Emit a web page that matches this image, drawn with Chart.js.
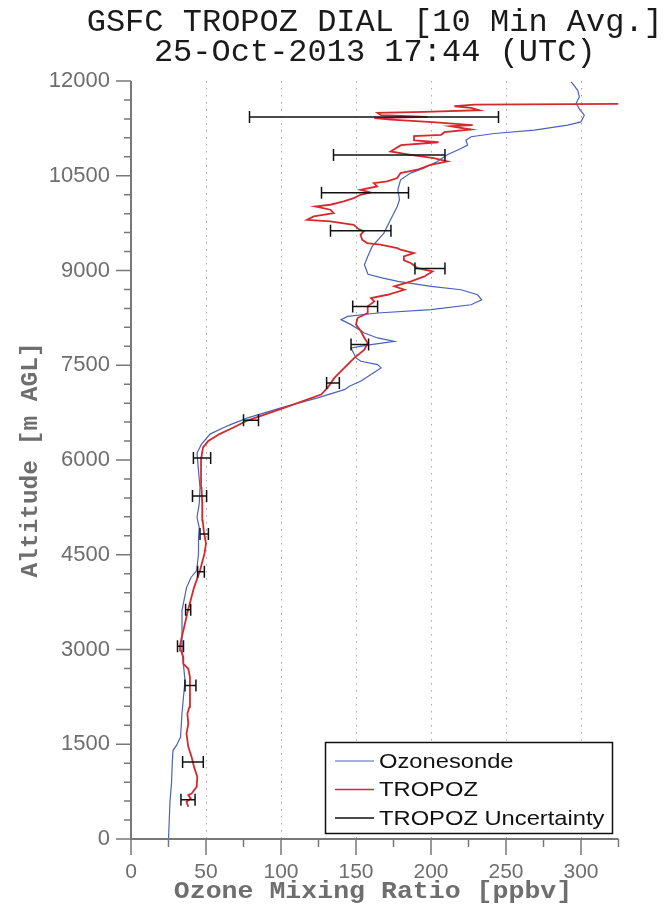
<!DOCTYPE html>
<html>
<head>
<meta charset="utf-8">
<script src="https://cdn.jsdelivr.net/npm/chart.js@4.4.0/dist/chart.umd.min.js"></script>
<style>
  html, body { margin: 0; padding: 0; background: #fff; }
  #wrap { width: 664px; height: 912px; position: relative; }
</style>
</head>
<body>
<div id="wrap"><canvas id="chart"></canvas></div>
<script>
// Ozonesonde profile: altitude [m AGL] and ozone [ppbv]
const sondeAlt = [0, 300, 600, 885, 1200, 1400, 1485, 1610, 1990, 2510, 2990, 3300, 3620, 3980, 4140,
    4250, 4520, 4770, 4930, 5090, 5310, 5560, 5830, 6110, 6250, 6410, 6510, 6564, 6620, 6668, 6825,
    6983, 7114, 7168, 7247, 7353, 7458, 7510, 7563, 7616, 7721, 7773, 7827, 7879, 7932, 8011, 8143,
    8222, 8274, 8327, 8380, 8458, 8537, 8616, 8695, 8748, 8827, 8879, 8940, 9090, 9221, 9381, 9592,
    9803, 10014, 10120, 10278, 10436, 10542, 10621, 10726, 10832, 10932, 10985, 11064, 11117, 11169,
    11222, 11301, 11353, 11459, 11538, 11643, 11748, 11853, 11959, 11985];
const sondeO3 = [25, 25.5, 26, 27, 27.5, 28, 30.4, 33, 34, 36, 34, 34, 34, 37, 40,
    43.8, 45, 45, 45.5, 44, 45.5, 46, 45, 44, 47, 52.7, 61.5, 66.7, 72.7, 77.8, 100,
    124.4, 142.2, 145.6, 153, 160, 166.7, 164.4, 153.3, 150, 147.8, 146.7, 160, 175.6, 164.4, 155.6, 146.7,
    140, 144.4, 164.4, 200, 226.7, 233.8, 231, 220, 200, 178, 168, 158, 155.6, 157.8, 160.8, 168.6,
    173, 177.5, 179, 177.9, 179.7, 186.4, 195.3, 204.2, 210.9, 220, 224.4, 223.3, 226.7, 242.2,
    268.9, 291.1, 300, 302.2, 299.5, 296.7, 298.9, 297.8, 294.4, 293.3];

// TROPOZ lidar retrieval
const tropozAlt = [510, 589, 642, 695, 721, 826, 984, 1142, 1300, 1458, 1668, 1826, 1984, 2089, 2247,
    2405, 2563, 2695, 2774, 2879, 2984, 3063, 3195, 3300, 3620, 3980, 4250, 4520, 4680, 4840, 5040,
    5310, 5560, 5830, 6010, 6200, 6300, 6410, 6510, 6620, 6825, 7036, 7142, 7300, 7458, 7616, 7748,
    7853, 7932, 8038, 8143, 8248, 8327, 8432, 8511, 8563, 8616, 8695, 8748, 8827, 8906, 8985, 9037,
    9116, 9160, 9222, 9276, 9329, 9355, 9408, 9434, 9487, 9566, 9619, 9656, 9724, 9777, 9803, 9856,
    9909, 9962, 10014, 10041, 10093, 10146, 10199, 10236, 10278, 10331, 10384, 10410, 10463, 10542,
    10595, 10674, 10726, 10780, 10832, 10884, 10985, 11030, 11060, 11127, 11148,
    11190, 11232, 11285, 11300, 11348, 11390, 11411, 11432, 11459, 11495, 11511, 11537, 11574, 11600,
    11627, 11637];
const tropozO3 = [38.2, 37, 39.8, 38.2, 40.4, 43.8, 44.2, 42, 40.4, 38.2, 37, 38.2, 37.6, 38.9, 39.3,
    39.3, 39.3, 38.2, 34.9, 34.9, 33.3, 32.7, 33.8, 34.9, 38, 42, 46, 49, 50, 48.7, 47.8,
    47.5, 47, 46.7, 46.7, 48, 51.5, 59, 68, 77, 102, 126.7, 131, 135.6, 142.2, 148.9, 155.6,
    157.8, 155.6, 153.3, 150, 151, 157.8, 157.8, 162.2, 160, 171, 182.2, 175.6, 186.7, 195.6, 201, 191,
    186.7, 182, 181.9, 188.6, 179.7, 177.5, 166.3, 157.4, 154.1, 153, 155.2, 151.8, 148.5, 132.9, 117.4, 121.8,
    135.1, 132.9, 122.9, 132.9, 141.8, 148.5, 153, 159.7, 153, 164.1, 161.9, 170.8, 177.5, 179.7,
    190.8, 199.7, 210.9, 201.9, 186.4, 173, 180, 205, 189, 188.7, 206.7,
    209, 226.7, 213.3, 227.8, 201, 173.3, 162.2, 197.8, 166.7, 164.4, 195.6, 232.2, 226.7, 215.6,
    228.9, 325];

// TROPOZ uncertainty bars
const errAlt = [620, 1220, 2430, 3050, 3630, 4230, 4830, 5430, 6030, 6630, 7220, 7830, 8430, 9030,
    9630, 10230, 10830, 11430];
const errLow = [33.3, 34.4, 36, 31, 36.4, 44.4, 46, 41, 41.6, 75, 130.4, 146.7, 147.8, 189.3,
    133, 127, 135, 79];
const errHigh = [42.7, 48.2, 43.3, 35, 39.8, 48.9, 51.6, 50.4, 53.1, 85, 138.9, 158.4, 164.4, 209.3,
    173.3, 185, 209.3, 245];

const xLabels = [0, 50, 100, 150, 200, 250, 300];
const yLabels = [0, 1500, 3000, 4500, 6000, 7500, 9000, 10500, 12000];

const AXIS_GRAY = '#787878';
const TEXT_GRAY = '#6e6e6e';

function toPoints(xs, ys) {
    return xs.map((v, i) => ({ x: v, y: ys[i] }));
}

// draw text stretched horizontally like the original render
function stretchText(ctx, text, x, y, sx, align) {
    ctx.save();
    ctx.translate(x, y);
    ctx.scale(sx, 1);
    ctx.textAlign = align || 'left';
    ctx.fillText(text, 0, 0);
    ctx.restore();
}

const gridPlugin = {
    id: 'dottedGrid',
    beforeDatasetsDraw(chart) {
        const { ctx, chartArea: a, scales: { x } } = chart;
        ctx.save();
        ctx.strokeStyle = '#a8a8a8';
        ctx.lineWidth = 1;
        ctx.setLineDash([1.5, 5.5]);
        xLabels.filter(v => v > 0).forEach(v => {
            const px = Math.round(x.getPixelForValue(v)) + 0.5;
            ctx.beginPath();
            ctx.moveTo(px, a.top);
            ctx.lineTo(px, a.bottom);
            ctx.stroke();
        });
        ctx.restore();
    },
};

const errorBarPlugin = {
    id: 'errorBars',
    afterDatasetsDraw(chart) {
        const { ctx, scales: { x, y } } = chart;
        ctx.save();
        ctx.strokeStyle = '#111';
        ctx.lineWidth = 1.5;
        errAlt.forEach((alt, i) => {
            const py = y.getPixelForValue(alt);
            const x0 = x.getPixelForValue(errLow[i]);
            const x1 = x.getPixelForValue(errHigh[i]);
            ctx.beginPath();
            ctx.moveTo(x0, py); ctx.lineTo(x1, py);
            ctx.moveTo(x0, py - 6); ctx.lineTo(x0, py + 6);
            ctx.moveTo(x1, py - 6); ctx.lineTo(x1, py + 6);
            ctx.stroke();
        });
        ctx.restore();
    },
};

const framePlugin = {
    id: 'frame',
    afterDraw(chart) {
        const { ctx, chartArea: a, scales: { x, y } } = chart;
        ctx.save();
        // spines
        ctx.strokeStyle = AXIS_GRAY;
        ctx.lineWidth = 2;
        ctx.beginPath();
        ctx.moveTo(a.left, a.top);
        ctx.lineTo(a.left, a.bottom);
        ctx.lineTo(a.right, a.bottom);
        ctx.stroke();
        // ticks
        ctx.lineWidth = 1.5;
        ctx.beginPath();
        for (let v = 0; v <= 12000; v += 300) {
            const py = y.getPixelForValue(v);
            const len = v % 1500 === 0 ? 15 : 7;
            ctx.moveTo(a.left, py); ctx.lineTo(a.left - len, py);
        }
        for (let v = 0; v <= 325; v += 25) {
            const px = x.getPixelForValue(v);
            const len = v % 50 === 0 ? 16 : 8;
            ctx.moveTo(px, a.bottom); ctx.lineTo(px, a.bottom + len);
        }
        ctx.stroke();

        // title
        ctx.fillStyle = '#1a1a1a';
        ctx.font = '32px "Liberation Mono", "DejaVu Sans Mono", monospace';
        ctx.textBaseline = 'alphabetic';
        ctx.textAlign = 'center';
        const cx = (a.left + a.right) / 2;
        ctx.fillText('GSFC TROPOZ DIAL [10 Min Avg.]', cx, 31);
        ctx.fillText('25-Oct-2013 17:44 (UTC)', cx, 61);

        // axis titles
        ctx.fillStyle = TEXT_GRAY;
        ctx.font = 'bold 23.5px "Liberation Mono", "DejaVu Sans Mono", monospace';
        stretchText(ctx, 'Ozone Mixing Ratio [ppbv]', 373, 898, 1.13, 'center');
        ctx.save();
        ctx.translate(37, 460);
        ctx.rotate(-Math.PI / 2);
        ctx.font = 'bold 24.5px "Liberation Mono", "DejaVu Sans Mono", monospace';
        ctx.textAlign = 'center';
        ctx.fillText('Altitude [m AGL]', 0, 0);
        ctx.restore();

        // legend
        const lx = 325.5, ly = 742.5, lw = 287, lh = 91;
        ctx.fillStyle = '#fff';
        ctx.fillRect(lx, ly, lw, lh);
        ctx.strokeStyle = '#111';
        ctx.lineWidth = 1.5;
        ctx.strokeRect(lx, ly, lw, lh);
        const rows = [
            { label: 'Ozonesonde', color: '#4a62bd', width: 1.2, y: 761 },
            { label: 'TROPOZ', color: '#d42a2e', width: 1.5, y: 789.5 },
            { label: 'TROPOZ Uncertainty', color: '#111', width: 1.5, y: 818 },
        ];
        ctx.font = '21px "Liberation Sans", Arial, sans-serif';
        ctx.textBaseline = 'middle';
        rows.forEach(r => {
            ctx.strokeStyle = r.color;
            ctx.lineWidth = r.width;
            ctx.beginPath();
            ctx.moveTo(335, r.y); ctx.lineTo(374, r.y);
            ctx.stroke();
            ctx.fillStyle = '#111';
            stretchText(ctx, r.label, 379, r.y + 1, 1.13, 'left');
        });
        ctx.restore();
    },
};

const chartEl = document.querySelector('#chart');
new Chart(chartEl, {
    type: 'scatter',
    data: {
        datasets: [
            {
                label: 'TROPOZ',
                data: toPoints(tropozO3, tropozAlt),
                showLine: true,
                borderColor: '#d42a2e',
                borderWidth: 1.8,
                pointRadius: 0,
                tension: 0,
                order: 0,
            },
            {
                label: 'Ozonesonde',
                data: toPoints(sondeO3, sondeAlt),
                showLine: true,
                borderColor: '#4a62bd',
                borderWidth: 1.2,
                pointRadius: 0,
                tension: 0,
                order: 1,
            },
        ],
    },
    options: {
        responsive: true,
        maintainAspectRatio: false,
        animation: false,
        devicePixelRatio: 1,
        layout: { padding: { left: 0, right: 45.5, top: 81, bottom: 0 } },
        plugins: {
            legend: { display: false },
            tooltip: { enabled: false },
            title: { display: false },
        },
        scales: {
            x: {
                type: 'linear',
                min: 0,
                max: 325,
                grid: { display: false, drawTicks: false },
                border: { display: false },
                afterBuildTicks: s => { s.ticks = xLabels.map(v => ({ value: v })); },
                afterFit: s => { s.height = 73; },
                ticks: {
                    color: TEXT_GRAY,
                    padding: 21,
                    maxRotation: 0,
                    font: { family: '"Liberation Sans", Arial, sans-serif', size: 21 },
                    callback: v => String(v),
                },
            },
            y: {
                type: 'linear',
                min: 0,
                max: 12000,
                grid: { display: false, drawTicks: false },
                border: { display: false },
                afterBuildTicks: s => { s.ticks = yLabels.map(v => ({ value: v })); },
                afterFit: s => { s.width = 131; },
                ticks: {
                    color: TEXT_GRAY,
                    padding: 21,
                    font: { family: '"Liberation Sans", Arial, sans-serif', size: 22 },
                    callback: v => String(v),
                },
            },
        },
    },
    plugins: [gridPlugin, errorBarPlugin, framePlugin],
});
</script>
</body>
</html>
